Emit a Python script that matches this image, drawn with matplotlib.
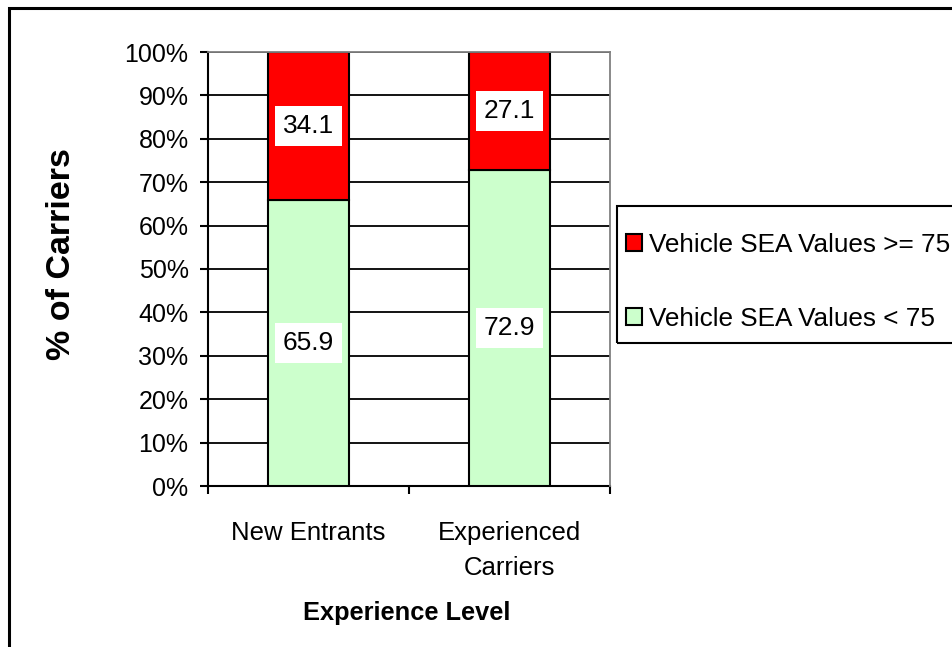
import numpy as np
import matplotlib.pyplot as plt
from matplotlib.patches import Rectangle

plt.rcParams['font.family'] = ['Liberation Sans', 'DejaVu Sans']

# data
kategori = ['New Entrants', 'Experienced\nCarriers']
nilai_bawah = [65.9, 72.9]   # Vehicle SEA Values < 75
nilai_atas = [34.1, 27.1]    # Vehicle SEA Values >= 75
label_bawah = 'Vehicle SEA Values < 75'
label_atas = 'Vehicle SEA Values >= 75'
yticks = [0, 10, 20, 30, 40, 50, 60, 70, 80, 90, 100]

W, H = 953, 647
fig = plt.figure(figsize=(W / 100, H / 100), dpi=100)
ax = fig.add_axes([208 / W, 1 - 486 / H, (610 - 208) / W, (486 - 52) / H])

x = np.arange(len(kategori)) + 0.5
b1 = ax.bar(x, nilai_bawah, width=0.4, color='#CCFFCC', edgecolor='black',
            linewidth=1.5, label=label_bawah, zorder=3)
b2 = ax.bar(x, nilai_atas, width=0.4, bottom=nilai_bawah, color='#FF0000',
            edgecolor='black', linewidth=1.5, label=label_atas, zorder=3)

for bars in (b1, b2):
    ax.bar_label(bars, fmt='%.1f', label_type='center', fontsize=19,
                 bbox=dict(facecolor='white', edgecolor='none',
                           boxstyle='square,pad=0.3'), zorder=4)

ax.set_xlim(0, 2)
ax.set_ylim(0, 100)

ax.set_yticks(yticks)
ax.set_yticklabels([f'{v}%' for v in yticks])
ax.tick_params(axis='y', direction='out', length=6, width=1.5, pad=8,
               labelsize=18)

ax.set_xticks(x)
ax.set_xticklabels(kategori, linespacing=1.6)
ax.tick_params(axis='x', which='major', length=0, pad=25, labelsize=18.5)
ax.set_xticks([0, 1, 2], minor=True)
ax.tick_params(axis='x', which='minor', direction='out', length=6, width=1.5)

ax.grid(axis='y', color='black', linewidth=1.3)
ax.set_axisbelow(True)

for s in ('left', 'bottom'):
    ax.spines[s].set_color('black')
    ax.spines[s].set_linewidth(1.5)
for s in ('top', 'right'):
    ax.spines[s].set_color('#808080')
    ax.spines[s].set_linewidth(1.3)
    ax.spines[s].set_zorder(5)

ax.set_ylabel('% of Carriers', fontsize=24.5, fontweight='bold')
ax.yaxis.set_label_coords((62 - 208) / 402, (486 - 254) / 434)
ax.yaxis.label.set_va('center')
ax.set_xlabel('Experience Level', fontsize=18.3, fontweight='bold')
ax.xaxis.set_label_coords((407 - 208) / 402, (486 - 613) / 434)
ax.xaxis.label.set_va('center')

# legenda
handles = [b2, b1]
fig.legend(handles, [label_atas, label_bawah], loc='upper left',
           bbox_to_anchor=(626 / W, 1 - 233 / H), frameon=False,
           fontsize=18.8, borderpad=0, borderaxespad=0,
           handlelength=0.63, handleheight=0.63, handletextpad=0.27,
           labelspacing=1.9)
fig.patches.append(Rectangle((617 / W, 1 - 343 / H), 0.5, (343 - 206) / H,
                             transform=fig.transFigure, fill=False,
                             edgecolor='black', linewidth=1.5))

# bingkai luar
fig.patches.append(Rectangle((9 / W, -0.1), 1.2, 1.1 - 8 / H,
                             transform=fig.transFigure, fill=False,
                             edgecolor='black', linewidth=2.2))

fig.savefig('out.png', dpi=100)
